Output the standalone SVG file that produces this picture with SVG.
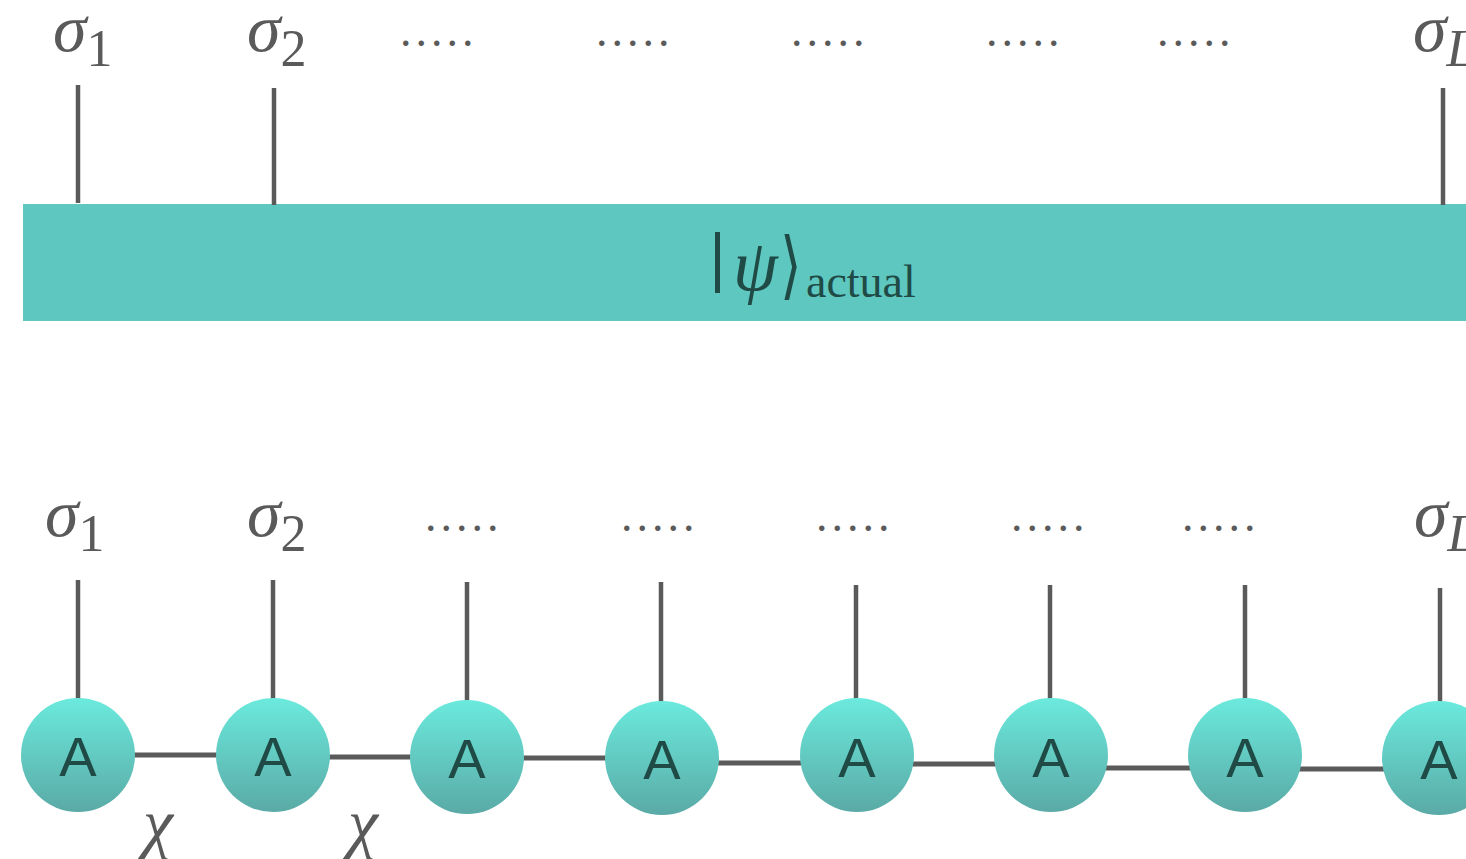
<svg xmlns="http://www.w3.org/2000/svg" width="1466" height="859" viewBox="0 0 1466 859">
  <defs>
    <linearGradient id="nodeFill" x1="0" y1="0" x2="0" y2="1">
      <stop offset="0" stop-color="#6beadd"/>
      <stop offset="1" stop-color="#5aaaa6"/>
    </linearGradient>
    <style>
      .leg { stroke: #5a5a5a; stroke-width: 4.5; fill: none; }
      .bond { stroke: #5a5a5a; stroke-width: 5; fill: none; }
      .sym { font-family: "Liberation Serif", "DejaVu Serif", serif; font-style: italic; fill: #5a5a5a; font-size: 68px; }
      .sub { font-style: normal; font-size: 52px; }
      .subi { font-style: italic; font-size: 52px; }
      .dots { font-family: "Liberation Serif", serif; fill: #5a5a5a; font-size: 46px; letter-spacing: 4px; }
      .node circle { fill: url(#nodeFill); }
      .node text { font-family: "Liberation Sans", Arial, sans-serif; font-size: 56px; fill: #1f4a46; text-anchor: middle; }
      .ket { font-family: "Liberation Serif", "DejaVu Serif", serif; fill: #1f4a46; }
    </style>
  </defs>

  <!-- upper row: the full state as one block -->
  <g id="state">
    <rect x="23" y="204" width="1443" height="117" fill="#5dc7c0"/>
    <rect x="715" y="232" width="5" height="61" fill="#1f4a46"/>
    <text class="ket" x="733" y="290" font-size="72" font-style="italic">ψ</text>
    <text class="ket" x="0" y="0" font-size="74" transform="translate(780,290) scale(0.75,1)">⟩</text>
    <text class="ket" x="806" y="297" font-size="46">actual</text>
  </g>

  <g id="top-labels">
    <text class="sym" x="53" y="51">σ<tspan class="sub" dy="15">1</tspan></text>
    <text class="sym" x="247" y="51">σ<tspan class="sub" dy="15">2</tspan></text>
    <text class="sym" x="1413" y="51">σ<tspan class="subi" dy="15">L</tspan></text>
    <text class="dots" x="400" y="46">.....</text>
    <text class="dots" x="596" y="46">.....</text>
    <text class="dots" x="791" y="46">.....</text>
    <text class="dots" x="986" y="46">.....</text>
    <text class="dots" x="1157" y="46">.....</text>
  </g>

  <g id="top-legs">
    <line class="leg" x1="78" y1="85" x2="78" y2="203"/>
    <line class="leg" x1="274" y1="88" x2="274" y2="205"/>
    <line class="leg" x1="1443" y1="88" x2="1443" y2="205"/>
  </g>

  <!-- lower row: the same state as a chain of tensors -->
  <g id="bottom-labels">
    <text class="sym" x="45" y="536">σ<tspan class="sub" dy="15">1</tspan></text>
    <text class="sym" x="247" y="536">σ<tspan class="sub" dy="15">2</tspan></text>
    <text class="sym" x="1414" y="536">σ<tspan class="subi" dy="15">L</tspan></text>
    <text class="dots" x="425" y="531">.....</text>
    <text class="dots" x="621" y="531">.....</text>
    <text class="dots" x="816" y="531">.....</text>
    <text class="dots" x="1011" y="531">.....</text>
    <text class="dots" x="1182" y="531">.....</text>
    <text class="sym" x="143" y="846" font-size="68">χ</text>
    <text class="sym" x="348" y="846" font-size="68">χ</text>
  </g>

  <g id="connectors">
    <line class="leg" x1="78" y1="580" x2="78" y2="700"/>
    <line class="leg" x1="273" y1="580" x2="273" y2="700"/>
    <line class="leg" x1="467" y1="582" x2="467" y2="702"/>
    <line class="leg" x1="661" y1="582" x2="661" y2="702"/>
    <line class="leg" x1="856" y1="585" x2="856" y2="700"/>
    <line class="leg" x1="1050" y1="585" x2="1050" y2="700"/>
    <line class="leg" x1="1245" y1="585" x2="1245" y2="700"/>
    <line class="leg" x1="1440" y1="588" x2="1440" y2="702"/>
    <line class="bond" x1="130" y1="755" x2="220" y2="755"/>
    <line class="bond" x1="325" y1="757" x2="415" y2="757"/>
    <line class="bond" x1="519" y1="758" x2="609" y2="758"/>
    <line class="bond" x1="714" y1="763" x2="804" y2="763"/>
    <line class="bond" x1="909" y1="764" x2="999" y2="764"/>
    <line class="bond" x1="1103" y1="768" x2="1193" y2="768"/>
    <line class="bond" x1="1297" y1="769" x2="1387" y2="769"/>
  </g>

  <g id="A1" class="node"><circle cx="78" cy="755" r="57"/><text x="78" y="776">A</text></g>
  <g id="A2" class="node"><circle cx="273" cy="755" r="57"/><text x="273" y="776">A</text></g>
  <g id="A3" class="node"><circle cx="467" cy="757" r="57"/><text x="467" y="778">A</text></g>
  <g id="A4" class="node"><circle cx="662" cy="758" r="57"/><text x="662" y="779">A</text></g>
  <g id="A5" class="node"><circle cx="857" cy="755" r="57"/><text x="857" y="777">A</text></g>
  <g id="A6" class="node"><circle cx="1051" cy="755" r="57"/><text x="1051" y="777">A</text></g>
  <g id="A7" class="node"><circle cx="1245" cy="755" r="57"/><text x="1245" y="777">A</text></g>
  <g id="A8" class="node"><circle cx="1439" cy="758" r="57"/><text x="1439" y="779">A</text></g>
</svg>
